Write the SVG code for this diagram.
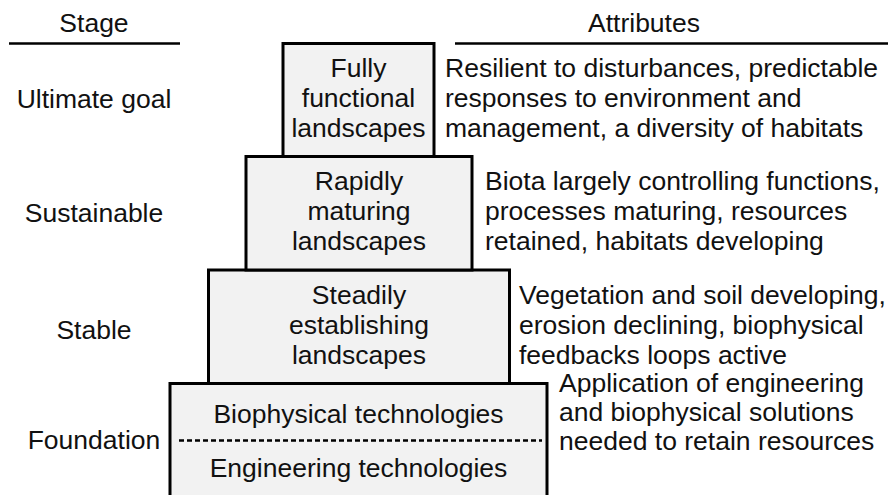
<svg xmlns="http://www.w3.org/2000/svg" width="891" height="495" viewBox="0 0 891 495">
<style>
text{font-family:"Liberation Sans",Arial,sans-serif;font-size:26.5px;fill:#111}
.c{text-anchor:middle}
.box{fill:#f2f2f2;stroke:#000;stroke-width:3}
.hl{stroke:#000;stroke-width:2.5}
</style>
<rect width="891" height="495" fill="#fff"/>
<g id="headers">
<text class="c" x="94" y="32">Stage</text>
<line class="hl" x1="9" y1="43.5" x2="180" y2="43.5"/>
<text class="c" x="644" y="32">Attributes</text>
<line class="hl" x1="455" y1="43.5" x2="888" y2="43.5"/>
</g>
<g id="stages">
<text class="c" x="94" y="108">Ultimate goal</text>
<text class="c" x="94" y="222">Sustainable</text>
<text class="c" x="94" y="339">Stable</text>
<text class="c" x="94" y="449">Foundation</text>
</g>
<g id="foundation">
<rect class="box" x="170" y="383.5" width="377" height="120"/>
<text class="c" x="358.5" y="423">Biophysical technologies</text>
<line x1="179" y1="440.5" x2="542" y2="440.5" stroke="#000" stroke-width="2.5" stroke-dasharray="5 3"/>
<text class="c" x="358.5" y="477">Engineering technologies</text>
</g>
<g id="stable">
<rect class="box" x="208.5" y="270" width="301" height="113.5"/>
<text class="c" x="359" y="304">Steadily</text>
<text class="c" x="359" y="334">establishing</text>
<text class="c" x="359" y="364">landscapes</text>
</g>
<g id="sustainable">
<rect class="box" x="246" y="156.5" width="226" height="113.5"/>
<text class="c" x="359" y="190">Rapidly</text>
<text class="c" x="359" y="220">maturing</text>
<text class="c" x="359" y="250">landscapes</text>
</g>
<g id="ultimate">
<rect class="box" x="283" y="43.5" width="151" height="113"/>
<text class="c" x="358.5" y="77">Fully</text>
<text class="c" x="358.5" y="107">functional</text>
<text class="c" x="358.5" y="137">landscapes</text>
</g>
<g id="attributes">
<text x="445" y="77">Resilient to disturbances, predictable</text>
<text x="445" y="107">responses to environment and</text>
<text x="445" y="137">management, a diversity of habitats</text>
<text x="485" y="190">Biota largely controlling functions,</text>
<text x="485" y="220">processes maturing, resources</text>
<text x="485" y="250">retained, habitats developing</text>
<text x="519" y="304">Vegetation and soil developing,</text>
<text x="519" y="334">erosion declining, biophysical</text>
<text x="519" y="364">feedbacks loops active</text>
<text x="559" y="392">Application of engineering</text>
<text x="559" y="421">and biophysical solutions</text>
<text x="559" y="450">needed to retain resources</text>
</g>
<g id="connectors"></g>
</svg>
